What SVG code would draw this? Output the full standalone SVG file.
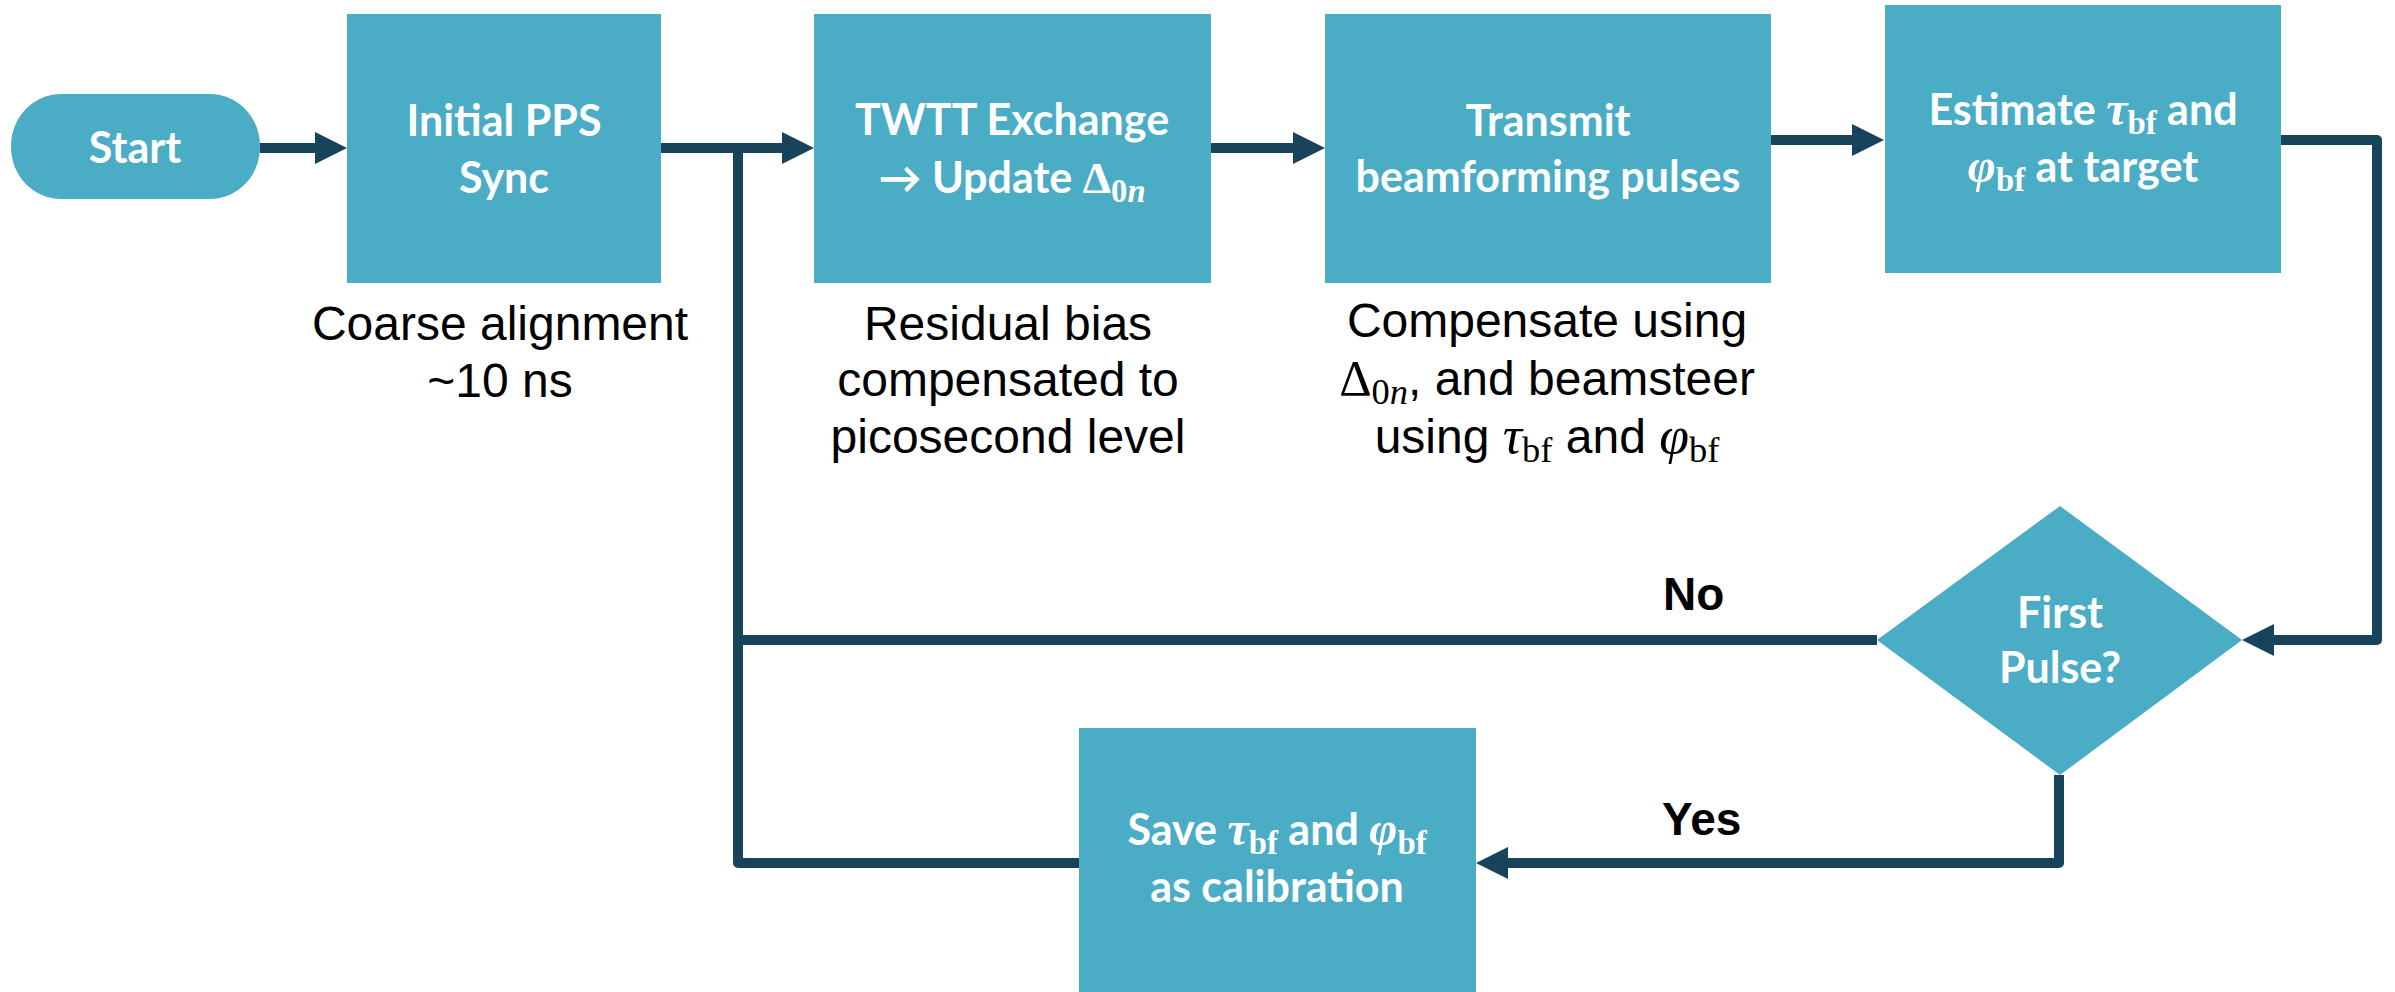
<svg xmlns="http://www.w3.org/2000/svg" width="2395" height="992" viewBox="0 0 2395 992">
<defs>
<style>
.box{fill:#4BACC6}
.wt{font-family:Lato,"Open Sans","Liberation Sans",sans-serif;font-weight:700;font-size:43px;fill:#fff;text-anchor:middle}
.bt{font-family:"Liberation Sans",Arial,sans-serif;font-size:48px;fill:#000;text-anchor:middle}
.lbl{font-family:"Liberation Sans",Arial,sans-serif;font-size:46px;font-weight:700;fill:#000}
.m{font-family:"Liberation Serif","DejaVu Serif",serif;font-style:italic;font-size:1.12em}
.mu{font-family:"Liberation Serif","DejaVu Serif",serif;font-style:normal;font-size:1.05em}
.sub{font-family:"Liberation Serif","DejaVu Serif",serif;font-style:normal;font-size:0.76em}
.subi{font-family:"Liberation Serif","DejaVu Serif",serif;font-style:italic;font-size:0.76em}
.conn{fill:none;stroke:#17445A;stroke-width:10;stroke-linejoin:round}
</style>
<marker id="ah" viewBox="0 0 32 32" refX="1" refY="16" markerWidth="32" markerHeight="32" markerUnits="userSpaceOnUse" orient="auto"><path d="M0,0L32,16L0,32z" fill="#17445A"/></marker>
</defs>
<rect width="2395" height="992" fill="#fff"/>
<g id="connectors">
<path class="conn" d="M260,148H316" marker-end="url(#ah)"/>
<path class="conn" d="M661,148H783" marker-end="url(#ah)"/>
<path class="conn" d="M1211,148H1294" marker-end="url(#ah)"/>
<path class="conn" d="M1771,140H1853" marker-end="url(#ah)"/>
<path class="conn" d="M2281,140H2377V640H2273" marker-end="url(#ah)"/>
<path class="conn" d="M1877,640H738"/>
<path class="conn" d="M1079,863H738V148"/>
<path class="conn" d="M2059,775V863H1507" marker-end="url(#ah)"/>
</g>
<g id="start">
<rect class="box" x="11" y="94" width="249" height="105" rx="50" ry="52"/>
<text class="wt" x="135" y="163">Start</text>
</g>
<g id="initial-pps">
<rect class="box" x="347" y="14" width="314" height="269"/>
<text class="wt" x="504" y="136">Initial PPS</text>
<text class="wt" x="504" y="193">Sync</text>
</g>
<g id="twtt">
<rect class="box" x="814" y="14" width="397" height="269"/>
<text class="wt" x="1012" y="135">TWTT Exchange</text>
<text class="wt" x="1012" y="193">→ Update <tspan class="mu">Δ</tspan><tspan class="sub" dy="9">0</tspan><tspan class="subi">n</tspan></text>
</g>
<g id="transmit">
<rect class="box" x="1325" y="14" width="446" height="269"/>
<text class="wt" x="1548" y="136">Transmit</text>
<text class="wt" x="1548" y="192">beamforming pulses</text>
</g>
<g id="estimate">
<rect class="box" x="1885" y="5" width="396" height="268"/>
<text class="wt" x="2083" y="125">Estimate <tspan class="m">τ</tspan><tspan class="sub" dy="9">bf</tspan><tspan dy="-9"> and</tspan></text>
<text class="wt" x="2083" y="182"><tspan class="m">φ</tspan><tspan class="sub" dy="9">bf</tspan><tspan dy="-9"> at target</tspan></text>
</g>
<g id="first-pulse">
<polygon class="box" points="2060,506 2242,640 2060,775 1877,640"/>
<text class="wt" x="2060" y="628">First</text>
<text class="wt" x="2060" y="683">Pulse?</text>
</g>
<g id="save">
<rect class="box" x="1079" y="728" width="397" height="264"/>
<text class="wt" x="1277" y="845">Save <tspan class="m">τ</tspan><tspan class="sub" dy="9">bf</tspan><tspan dy="-9"> and </tspan><tspan class="m">φ</tspan><tspan class="sub" dy="9">bf</tspan></text>
<text class="wt" x="1277" y="902">as calibration</text>
</g>
<g id="annotations">
<text class="bt" x="500" y="340">Coarse alignment</text>
<text class="bt" x="500" y="397">~10 ns</text>
<text class="bt" x="1008" y="340">Residual bias</text>
<text class="bt" x="1008" y="396">compensated to</text>
<text class="bt" x="1008" y="453">picosecond level</text>
<text class="bt" x="1547" y="337">Compensate using</text>
<text class="bt" x="1547" y="395"><tspan class="mu">Δ</tspan><tspan class="sub" dy="9">0</tspan><tspan class="subi">n</tspan><tspan dy="-9">, and beamsteer</tspan></text>
<text class="bt" x="1547" y="453">using <tspan class="m">τ</tspan><tspan class="sub" dy="9">bf</tspan><tspan dy="-9"> and </tspan><tspan class="m">φ</tspan><tspan class="sub" dy="9">bf</tspan></text>
<text class="lbl" x="1663" y="610">No</text>
<text class="lbl" x="1662" y="835">Yes</text>
</g>
</svg>
